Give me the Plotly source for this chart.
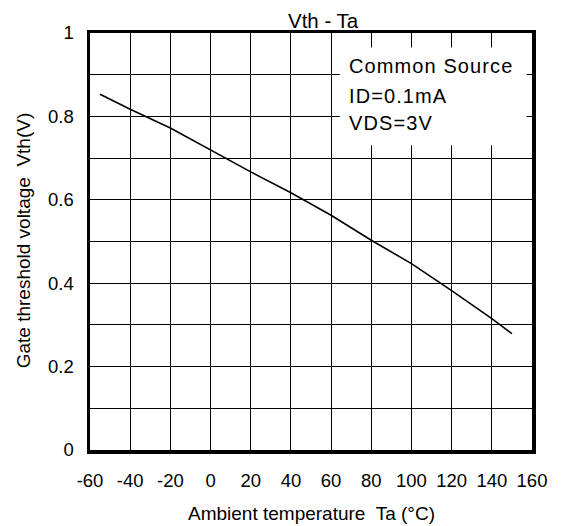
import plotly.graph_objects as go

temp_c = [-55, -40, -20, 0, 20, 40, 60, 80, 100, 120, 140, 150]
vth_v = [0.853, 0.817, 0.772, 0.719, 0.667, 0.617, 0.563, 0.503, 0.447, 0.382, 0.315, 0.279]

x_ticks = list(range(-60, 161, 20))
y_ticks = [round(i * 0.1, 1) for i in range(11)]
y_ticktext = ["0", "", "0.2", "", "0.4", "", "0.6", "", "0.8", "", "1"]
legend_lines = ["Common Source", "ID=0.1mA", "VDS=3V"]

FONT = "Arial, Liberation Sans, sans-serif"

W, H = 561, 526
L, R, T, B = 90, 532.5, 32.5, 450  # plot area in window pixels


def px_to_paper(xp, yp):
    return (xp - L) / (R - L), (B - yp) / (B - T)


fig = go.Figure()
fig.add_trace(go.Scatter(x=temp_c, y=vth_v, mode="lines",
                         line=dict(color="black", width=1.6), showlegend=False,
                         hoverinfo="skip"))

fig.update_layout(
    width=W, height=H,
    margin=dict(l=L, r=W - R, t=T, b=H - B, pad=0),
    paper_bgcolor="white", plot_bgcolor="white",
    font=dict(family=FONT, size=18.5, color="black"),
    showlegend=False,
)
fig.update_xaxes(range=[-60, 160], tickvals=x_ticks, ticktext=[str(v) for v in x_ticks],
                 showgrid=True, gridcolor="black", gridwidth=1,
                 showline=True, linecolor="black", linewidth=3.5, mirror=True,
                 ticks="", zeroline=False, ticklabelstandoff=11,
                 tickfont=dict(size=18.5))
fig.update_yaxes(range=[0, 1], tickvals=y_ticks, ticktext=y_ticktext,
                 showgrid=True, gridcolor="black", gridwidth=1,
                 showline=True, linecolor="black", linewidth=3.5, mirror=True,
                 ticks="", zeroline=False, ticklabelstandoff=9,
                 tickfont=dict(size=18.5))

# legend box (white, hides gridlines)
fig.add_shape(type="rect", xref="x", yref="y", x0=64.3, x1=157.3, y0=0.731, y1=0.965,
              fillcolor="white", line=dict(width=0), layer="between")

for txt, yv in zip(legend_lines, [0.922, 0.850, 0.784]):
    fig.add_annotation(x=67.8, y=yv, xref="x", yref="y",
                       text='<span style="letter-spacing:1.1px">' + txt + '</span>',
                       showarrow=False, xanchor="left", yanchor="middle", font=dict(size=20))

tx, ty = px_to_paper(324, 19.5)
fig.add_annotation(x=tx, y=ty, xref="paper", yref="paper", text="Vth - Ta",
                   showarrow=False, xanchor="center", yanchor="middle", font=dict(size=20.5))
ax, ay = px_to_paper(311.5, 514)
fig.add_annotation(x=ax, y=ay, xref="paper", yref="paper", text="Ambient temperature  Ta (°C)",
                   showarrow=False, xanchor="center", yanchor="middle", font=dict(size=19))
yx, yy = px_to_paper(23.5, 240.5)
fig.add_annotation(x=yx, y=yy, xref="paper", yref="paper",
                   text="Gate threshold voltage  Vth(V)", textangle=-90,
                   showarrow=False, xanchor="center", yanchor="middle", font=dict(size=19))

fig.write_html("out.html",
               config={"displayModeBar": False, "staticPlot": True},
               post_script="document.body.style.margin='0';document.body.style.overflow='hidden';")
